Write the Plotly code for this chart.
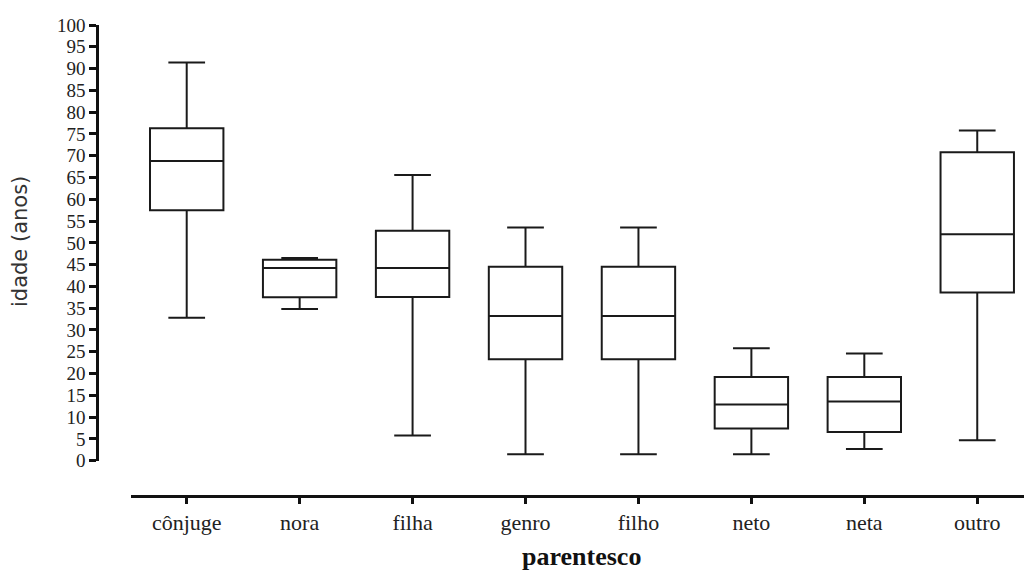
import plotly.graph_objects as go

categories = ["cônjuge", "nora", "filha", "genro", "filho", "neto", "neta", "outro"]
whisker_low = [32.8, 34.8, 5.8, 1.5, 1.5, 1.5, 2.7, 4.7]
quart1 = [57.5, 37.5, 37.6, 23.3, 23.3, 7.4, 6.6, 38.6]
median = [68.8, 44.2, 44.2, 33.2, 33.2, 12.9, 13.6, 52.0]
quart3 = [76.3, 46.1, 52.8, 44.5, 44.5, 19.2, 19.2, 70.8]
whisker_high = [91.4, 46.5, 65.6, 53.5, 53.5, 25.8, 24.6, 75.8]
y_ticks = list(range(0, 101, 5))

W, H = 1024, 574
ml, mr, mt, mb = 97, 0, 25, 78
pw = W - ml - mr
ph = H - mt - mb

fig = go.Figure()
fig.add_trace(go.Box(
    x=categories,
    q1=quart1, median=median, q3=quart3,
    lowerfence=whisker_low, upperfence=whisker_high,
    boxpoints=False,
    width=0.65,
    whiskerwidth=0.5,
    fillcolor="white",
    line=dict(color="#1a1a1a", width=2),
    showlegend=False,
    hoverinfo="skip",
))

x_dom0 = (130.7 - ml) / pw
y_dom0 = (mt + ph - 460.7) / ph

fig.update_layout(
    width=W, height=H,
    margin=dict(l=ml, r=mr, t=mt, b=mb),
    paper_bgcolor="white", plot_bgcolor="white",
    xaxis=dict(
        domain=[x_dom0, 1], anchor="free", position=0,
        type="category", range=[-0.496, 7.414],
        showline=True, linecolor="#111", linewidth=2.5,
        ticks="outside", ticklen=6, tickwidth=2.5, tickcolor="#111",
        showgrid=False, zeroline=False,
        tickfont=dict(family="Liberation Serif", size=22, color="#222"),
    ),
    yaxis=dict(
        domain=[y_dom0, 1], anchor="free", position=0,
        range=[0, 100], tickvals=y_ticks, ticktext=[str(v) for v in y_ticks],
        showline=True, linecolor="#111", linewidth=2.5,
        ticks="outside", ticklen=7, tickwidth=2.5, tickcolor="#111",
        showgrid=False, zeroline=False,
        tickfont=dict(family="Liberation Serif", size=19, color="#222"),
    ),
    annotations=[
        dict(text="idade (anos)", xref="paper", yref="paper",
             x=(20 - ml) / pw, y=(mt + ph - 242) / ph,
             xanchor="center", yanchor="middle", textangle=-90, showarrow=False,
             font=dict(family="DejaVu Sans", size=21, color="#333")),
        dict(text="<b>parentesco</b>", xref="paper", yref="paper",
             x=(581 - ml) / pw, y=(mt + ph - 556) / ph,
             xanchor="center", yanchor="middle", showarrow=False,
             font=dict(family="Liberation Serif", size=26, color="#111")),
    ],
)

fig.write_html("out.html")
